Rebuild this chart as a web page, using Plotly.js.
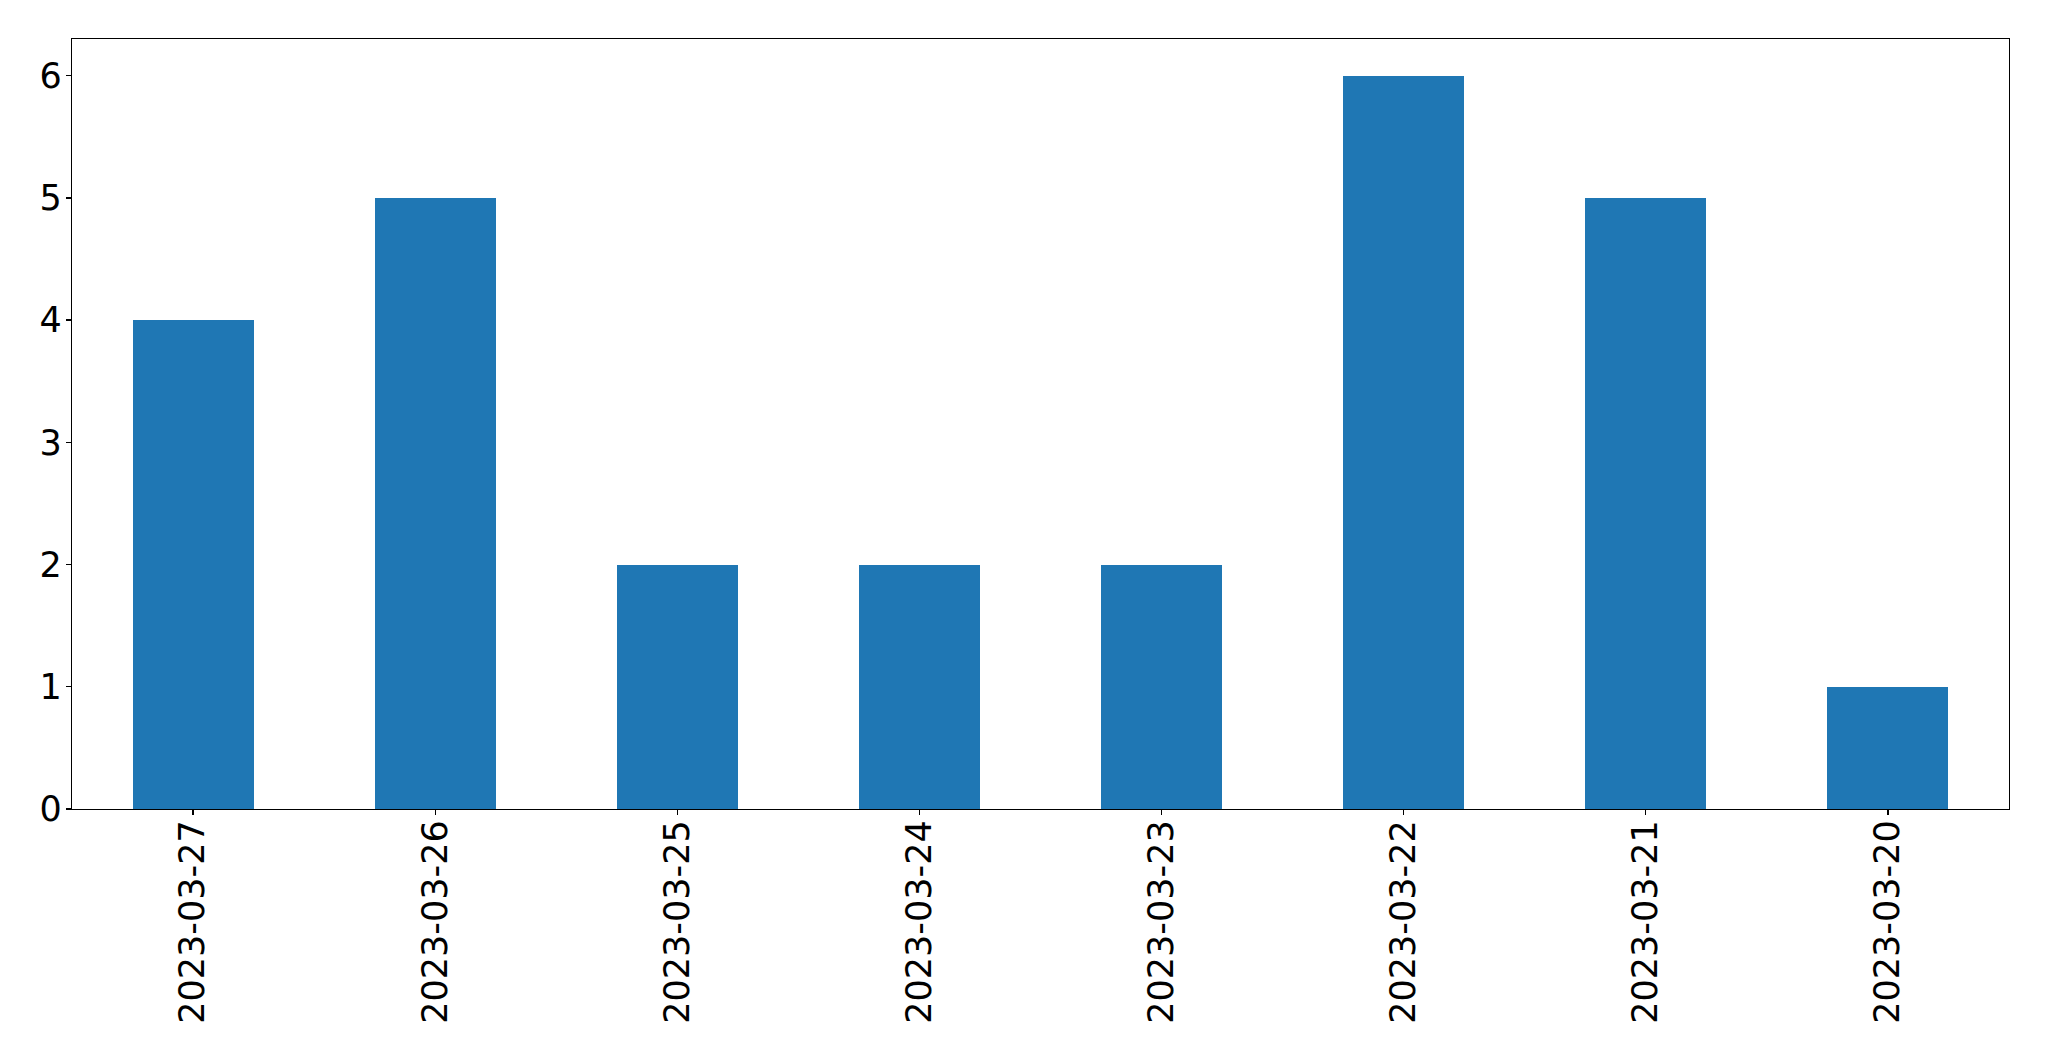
<!DOCTYPE html>
<html>
<head>
<meta charset="utf-8">
<script src="https://cdn.plot.ly/plotly-3.0.1.min.js"></script>
<style>html,body{margin:0;padding:0;background:#fff;}#chart{width:2049px;height:1061px;}</style>
</head>
<body>
<div id="chart"></div>
<script>
const dates = ["2023-03-27","2023-03-26","2023-03-25","2023-03-24","2023-03-23","2023-03-22","2023-03-21","2023-03-20"];
const counts = [4, 5, 2, 2, 2, 6, 5, 1];
const yTicks = [0, 1, 2, 3, 4, 5, 6];

const trace = {
  type: "bar",
  x: dates,
  y: counts,
  width: 0.5,
  marker: {color: "#1f77b4", line: {width: 0}},
  hoverinfo: "x+y"
};

const font = {family: "DejaVu Sans, sans-serif", size: 35, color: "#000"};

const layout = {
  width: 2049,
  height: 1061,
  margin: {l: 72, r: 40, t: 39, b: 252, pad: 0},
  paper_bgcolor: "#fff",
  plot_bgcolor: "#fff",
  showlegend: false,
  font: font,
  bargap: 0,
  xaxis: {
    type: "category",
    range: [-0.5, 7.5],
    tickangle: -90,
    ticks: "outside",
    ticklen: 5,
    tickwidth: 1.3,
    tickcolor: "#000",
    showline: true,
    linecolor: "#000",
    linewidth: 1.3,
    mirror: true,
    showgrid: false,
    zeroline: false,
    tickfont: font,
    ticklabelstandoff: -9
  },
  yaxis: {
    range: [0, 6.3],
    tickvals: yTicks,
    ticktext: yTicks.map(String),
    ticks: "outside",
    ticklen: 5,
    tickwidth: 1.3,
    tickcolor: "#000",
    showline: true,
    linecolor: "#000",
    linewidth: 1.3,
    mirror: true,
    showgrid: false,
    zeroline: false,
    tickfont: font,
    ticklabelstandoff: -3
  }
};

Plotly.newPlot("chart", [trace], layout, {staticPlot: true, displayModeBar: false});
</script>
</body>
</html>
